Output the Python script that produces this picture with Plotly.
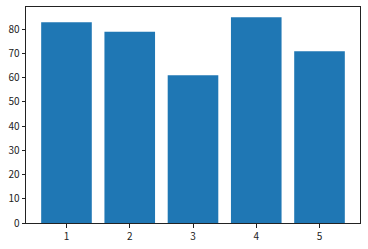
import plotly.graph_objects as go

categories = [1, 2, 3, 4, 5]
values = [83, 79, 61, 85, 71]
y_ticks = [0, 10, 20, 30, 40, 50, 60, 70, 80]

fig = go.Figure(go.Bar(x=categories, y=values, width=0.8, marker=dict(color="#1f77b4", line=dict(width=0))))

axis_common = dict(showline=True, linecolor="#222", linewidth=1, mirror=True, showgrid=False, zeroline=False,
                   ticks="outside", ticklen=3.5, tickcolor="#222", tickwidth=1,
                   tickfont=dict(family="Noto Sans CJK JP", size=10, color="#222"))
fig.update_layout(
    width=368, height=249,
    margin=dict(l=26, r=8, t=6, b=25),
    paper_bgcolor="white", plot_bgcolor="white",
    showlegend=False,
    xaxis=dict(range=[0.36, 5.64], tickvals=categories, **axis_common),
    yaxis=dict(range=[0, 89.25], tickvals=y_ticks, **axis_common),
)
fig.write_html("out.html")
